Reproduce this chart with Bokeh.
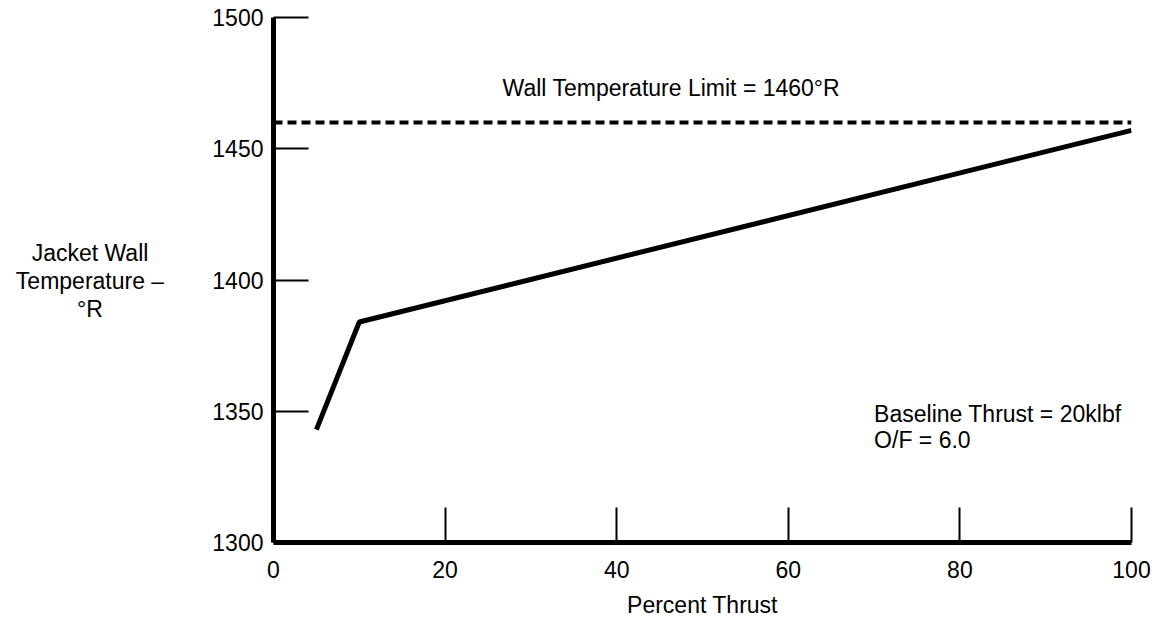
from bokeh.plotting import figure
from bokeh.models import Range1d, FixedTicker, Label, Div
from bokeh.layouts import row
from bokeh.embed import file_html
from bokeh.resources import INLINE

# Data
thrust_pct = [5, 10, 100]
wall_temp = [1343, 1384, 1457]
limit_x = [0, 100]
limit_temp = [1460, 1460]
x_ticks = [0, 20, 40, 60, 80, 100]
y_ticks = [1300, 1350, 1400, 1450, 1500]
y_title_lines = ["Jacket Wall", "Temperature –", "°R"]

FONT = "Liberation Sans"
FS = "23px"
LEFT_W = 180

p = figure(width=1153 - LEFT_W, height=620, output_backend="svg", toolbar_location=None,
           x_range=Range1d(0, 100), y_range=Range1d(1300, 1500),
           min_border_left=273 - LEFT_W, min_border_right=22, min_border_top=17,
           min_border_bottom=77)
p.outline_line_color = None
p.xgrid.visible = False
p.ygrid.visible = False
p.background_fill_color = "white"
p.border_fill_color = "white"

for ax in (p.xaxis[0], p.yaxis[0]):
    ax.axis_line_width = 5
    ax.axis_line_color = "black"
    ax.major_tick_in = 35
    ax.major_tick_out = 0
    ax.major_tick_line_width = 2
    ax.major_tick_line_color = "black"
    ax.minor_tick_line_color = None
    ax.major_label_text_font = FONT
    ax.major_label_text_font_size = FS
    ax.major_label_text_color = "black"

p.xaxis[0].ticker = FixedTicker(ticks=x_ticks)
p.yaxis[0].ticker = FixedTicker(ticks=y_ticks)
p.xaxis[0].major_label_standoff = 18
p.yaxis[0].major_label_standoff = 10
p.xaxis[0].axis_label = "Percent Thrust"
p.xaxis[0].axis_label_text_font = FONT
p.xaxis[0].axis_label_text_font_size = FS
p.xaxis[0].axis_label_text_font_style = "normal"
p.xaxis[0].axis_label_text_color = "black"
p.xaxis[0].axis_label_standoff = 11

# Lines
p.line(limit_x, limit_temp, line_color="black", line_width=4, line_dash="9 5")
p.line(thrust_pct, wall_temp, line_color="black", line_width=5)

def lab(x, y, t, align="left"):
    p.add_layout(Label(x=x, y=y, text=t, text_font=FONT, text_font_size=FS,
                       text_color="black", text_align=align, text_baseline="alphabetic"))

lab(26.7, 1473.3, "Wall Temperature Limit = 1460°R")
lab(70, 1348.9, "Baseline Thrust = 20klbf")
lab(70, 1338.9, "O/F = 6.0")

ytitle = Div(
    text=('<div style="padding-top:239px; text-align:center; font-family:\'Liberation Sans\';'
          ' font-size:23px; line-height:28px; color:black; width:%dpx">' % LEFT_W)
    + "<br>".join(y_title_lines) + "</div>",
    width=LEFT_W, height=620, margin=(0, 0, 0, 0))

layout = row(ytitle, p, spacing=0)

open("out.html", "w").write(file_html(layout, INLINE))
